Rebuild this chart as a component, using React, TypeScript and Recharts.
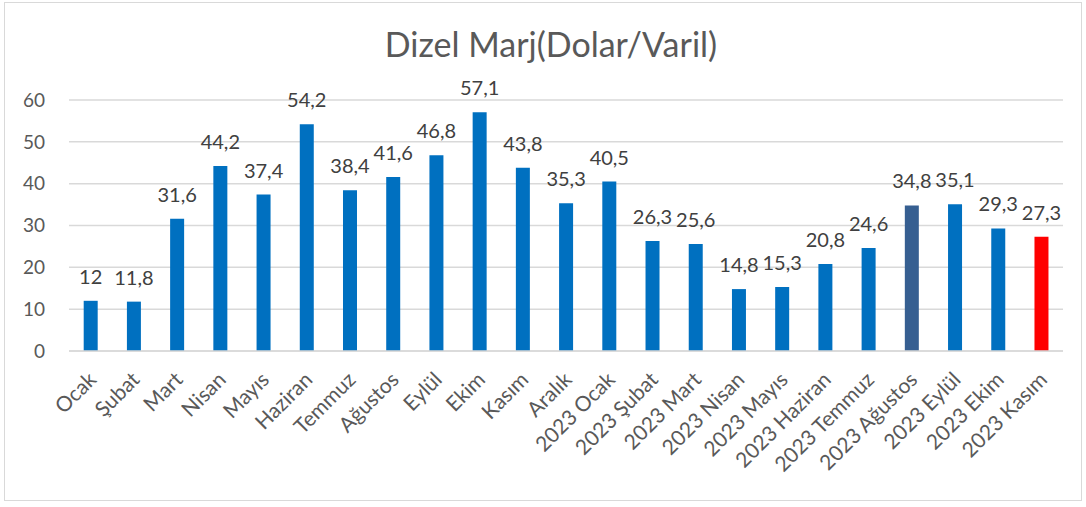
import { BarChart, Bar, XAxis, YAxis, CartesianGrid, LabelList, Cell } from "recharts";

const months = [
  "Ocak", "Şubat", "Mart", "Nisan", "Mayıs", "Haziran", "Temmuz", "Ağustos", "Eylül", "Ekim", "Kasım", "Aralık",
  "2023 Ocak", "2023 Şubat", "2023 Mart", "2023 Nisan", "2023 Mayıs", "2023 Haziran", "2023 Temmuz",
  "2023 Ağustos", "2023 Eylül", "2023 Ekim", "2023 Kasım",
];
const margins = [12, 11.8, 31.6, 44.2, 37.4, 54.2, 38.4, 41.6, 46.8, 57.1, 43.8, 35.3, 40.5, 26.3, 25.6, 14.8, 15.3, 20.8, 24.6, 34.8, 35.1, 29.3, 27.3];
const yTicks = [0, 10, 20, 30, 40, 50, 60];

const BLUE = "#0070C0";
const DARK = "#365F91";
const RED = "#FF0000";
const barColor = (m: string) => (m === "2023 Ağustos" ? DARK : m === "2023 Kasım" ? RED : BLUE);

const data = months.map((m, i) => ({ month: m, value: margins[i] }));
const font = "Lato, 'Open Sans', sans-serif";

function MonthTick({ x, y, payload }: any) {
  const ax = x + 7;
  const ay = y + 22;
  return (
    <text
      x={ax}
      y={ay}
      transform={`rotate(-45 ${ax} ${ay})`}
      textAnchor="end"
      fontSize={21}
      fill="#595959"
      fontFamily={font}
    >
      {payload.value}
    </text>
  );
}

export default function App() {
  return (
    <div style={{ position: "relative", width: 1086, height: 507, background: "#fff", fontFamily: font }}>
      <style>{`body{margin:0}`}</style>
      <div
        style={{
          position: "absolute",
          left: 4,
          top: 2,
          width: 1076,
          height: 497,
          border: "1px solid #D9D9D9",
        }}
      />
      <div
        style={{
          position: "absolute",
          left: 8,
          top: 23,
          width: 1086,
          textAlign: "center",
          fontSize: 34,
          lineHeight: "41px",
          color: "#595959",
        }}
      >
        Dizel Marj(Dolar/Varil)
      </div>
      <BarChart
        width={1086}
        height={507}
        data={data}
        margin={{ top: 100, right: 23, bottom: 0, left: 0 }}
        barCategoryGap="34%"
      >
        <CartesianGrid vertical={false} stroke="#D9D9D9" strokeWidth={1.5} />
        <XAxis
          dataKey="month"
          interval={0}
          height={156}
          tickLine={false}
          axisLine={{ stroke: "#D9D9D9", strokeWidth: 1.5 }}
          tick={<MonthTick />}
        />
        <YAxis
          domain={[0, 60]}
          ticks={yTicks}
          width={69}
          axisLine={false}
          tickLine={false}
          tickMargin={18}
          tick={{ fontSize: 19, fill: "#595959", fontFamily: font }}
        />
        <Bar dataKey="value" isAnimationActive={false}>
          {data.map((d) => (
            <Cell key={d.month} fill={barColor(d.month)} />
          ))}
          <LabelList
            dataKey="value"
            position="top"
            offset={17}
            formatter={(v: any) => String(v).replace(".", ",")}
            style={{ fontSize: 20, fill: "#404040", fontFamily: font }}
          />
        </Bar>
      </BarChart>
    </div>
  );
}
